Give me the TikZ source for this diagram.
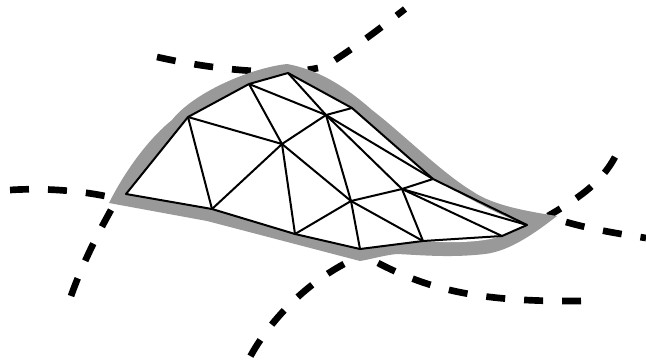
\documentclass[tikz,border=0pt]{standalone}
\usetikzlibrary{calc}
\definecolor{BandGray}{HTML}{999999}
\tikzset{
  edge/.style={line width=1.5pt,color=black,line join=round},
  fault/.style={line width=5pt,color=black,dash pattern=on 14.25pt off 14.25pt},
  band/.style={fill=BandGray,draw=none},
  hole/.style={fill=white,draw=none},
}
\begin{document}
\begin{tikzpicture}[x=0.75pt,y=-0.75pt]
  \useasboundingbox (0,0) rectangle (646,362);

  % mesh vertices
  \coordinate (a) at (126,194);
  \coordinate (b) at (188,117);
  \coordinate (c) at (249,84);
  \coordinate (d) at (288,73);
  \coordinate (e) at (326,115);
  \coordinate (f) at (352,108);
  \coordinate (g) at (282,144);
  \coordinate (h) at (212,209);
  \coordinate (i) at (295,234);
  \coordinate (j) at (351,201);
  \coordinate (k) at (360,249);
  \coordinate (l) at (402,189);
  \coordinate (m) at (433,179);
  \coordinate (n) at (423,241);
  \coordinate (o) at (502,236);
  \coordinate (p) at (527,225);

  % dashed curves
  \draw[fault] (10,190) .. controls (40,188) and (75,190) .. (105,196);
  \draw[fault] (111,210) .. controls (97,235) and (82,265) .. (71,296);
  \draw[fault] (157,57) .. controls (215,70) and (280,76) .. (318,68);
  \draw[fault] (335,60) .. controls (358,45) and (382,27) .. (405,9);
  \draw[fault] (615,157) .. controls (600,185) and (575,200) .. (548,216);
  \draw[fault] (566,222) .. controls (590,229) and (620,234) .. (646,238);
  \draw[fault] (344,264) .. controls (305,285) and (270,320) .. (250,357);
  \draw[fault] (378,263) .. controls (430,290) and (480,302) .. (581,301);

  % gray band
  \path[band] (109,203) .. controls (128,165) and (153,135) .. (172,120)
     .. controls (193,93) and (250,68) .. (287,64)
     .. controls (320,70) and (347,88) .. (372,110)
     .. controls (402,133) and (442,173) .. (472,191)
     .. controls (492,205) and (525,211) .. (557,216)
     .. controls (535,233) and (510,251) .. (485,254)
     .. controls (450,258) and (420,255) .. (397,254)
     .. controls (385,255) and (372,259) .. (360,261)
     -- (207,221) -- cycle;
  \path[hole] (a) -- (b) -- (c) -- (d) -- (f) -- (m)
     .. controls (470,199) and (500,216) .. (p) -- (o)
     .. controls (480,243) and (450,243) .. (423,241) -- (k) -- (i) -- (h) -- cycle;

  % mesh edges
  \draw[edge] (a) -- (b) -- (c) -- (d) -- (f) -- (m) -- (p) -- (o)
     -- (n) -- (k) -- (i) -- (h) -- cycle;
  \foreach \s/\t in {b/h,b/g,c/g,c/e,d/e,e/f,e/g,g/h,g/i,g/j,e/j,e/l,e/m,
                     j/i,j/k,j/l,j/n,l/n,l/o,l/p,l/m}
    \draw[edge] (\s) -- (\t);
\end{tikzpicture}
\end{document}
